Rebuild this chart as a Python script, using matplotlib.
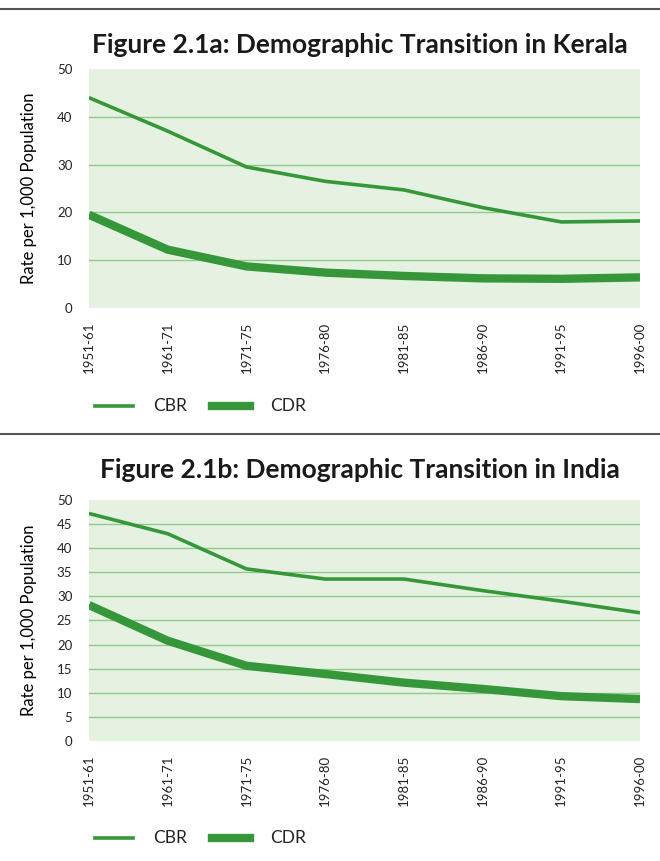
import matplotlib
matplotlib.use('Agg')
import matplotlib.pyplot as plt
from matplotlib.lines import Line2D

periods = ['1951-61', '1961-71', '1971-75', '1976-80', '1981-85', '1986-90', '1991-95', '1996-00']

kerala_cbr = [44.0, 37.0, 29.5, 26.5, 24.7, 21.0, 18.0, 18.2]
kerala_cdr = [19.5, 12.2, 8.7, 7.4, 6.7, 6.2, 6.1, 6.4]

india_cbr = [47.2, 43.0, 35.7, 33.6, 33.6, 31.2, 29.0, 26.6]
india_cdr = [28.2, 20.8, 15.6, 13.9, 12.1, 10.8, 9.3, 8.7]

line_color = '#36973a'
bg_color = '#e5f2e1'
grid_color = '#93c98a'
font = 'Lato'

plt.rcParams['font.family'] = [font, 'DejaVu Sans']

fig = plt.figure(figsize=(6.6, 8.61), dpi=100)


def draw_panel(ax, cbr, cdr, yticks, title, title_y):
    x = list(range(len(periods)))
    ax.set_facecolor(bg_color)
    ax.plot(x, cbr, color=line_color, lw=2.6, solid_capstyle='butt', zorder=3)
    ax.plot(x, cdr, color=line_color, lw=6.0, solid_capstyle='butt', zorder=3)
    ax.set_xlim(0, len(periods) - 1)
    ax.set_ylim(0, yticks[-1])
    ax.set_yticks(yticks)
    for t in yticks[1:-1]:
        ax.axhline(t, color=grid_color, lw=1.0, zorder=1)
    for s in ax.spines.values():
        s.set_visible(False)
    ax.tick_params(axis='both', length=0, colors='#222222')
    ax.tick_params(axis='y', pad=12, labelsize=9.5)
    ax.set_xticks(x)
    ax.set_xticklabels(periods, rotation=90, fontsize=9.5)
    ax.tick_params(axis='x', pad=10)
    ax.set_ylabel('Rate per 1,000 Population', fontsize=12, labelpad=14)
    fig.text(0.545, title_y, title, ha='center', va='center',
             fontsize=19, fontweight='bold', color='#1a1a1a')


ax1 = fig.add_axes([0.1348, 0.6423, 0.8349, 0.2776])
draw_panel(ax1, kerala_cbr, kerala_cdr, [0, 10, 20, 30, 40, 50],
           'Figure 2.1a: Demographic Transition in Kerala', 1 - 45 / 861)

ax2 = fig.add_axes([0.1348, 0.1394, 0.8349, 0.2799])
draw_panel(ax2, india_cbr, india_cdr, [0, 5, 10, 15, 20, 25, 30, 35, 40, 45, 50],
           'Figure 2.1b: Demographic Transition in India', 1 - 470 / 861)


def legend_row(y_px):
    y = 1 - y_px / 861
    fig.add_artist(Line2D([95 / 660, 133 / 660], [y, y], color=line_color, lw=2.6))
    fig.text(153 / 660, y, 'CBR', va='center', fontsize=12.5, color='#222222')
    fig.add_artist(Line2D([212 / 660, 250 / 660], [y, y], color=line_color, lw=6.0))
    fig.text(270 / 660, y, 'CDR', va='center', fontsize=12.5, color='#222222')


legend_row(406)
legend_row(838)

# separator rules
for y_px in (9, 434):
    y = 1 - y_px / 861
    fig.add_artist(Line2D([0, 1], [y, y], color='#555555', lw=1.5))

fig.savefig('out.png', dpi=100)
